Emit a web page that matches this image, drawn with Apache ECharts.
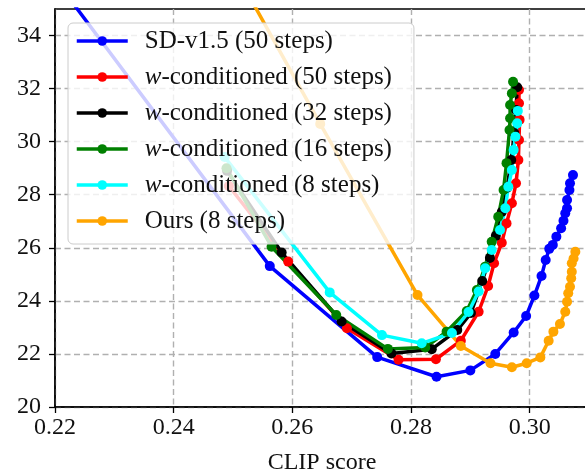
<!DOCTYPE html>
<html>
<head>
<meta charset="utf-8">
<script src="https://cdn.jsdelivr.net/npm/echarts@6/dist/echarts.min.js"></script>
<style>
html,body{margin:0;padding:0;background:#fff;}
#chart{width:585px;height:474px;}
</style>
</head>
<body>
<div id="chart"></div>
<script>
// ---- data (CLIP score, FID) ----
const seriesNames = [
  'SD-v1.5 (50 steps)',
  'w-conditioned (50 steps)',
  'w-conditioned (32 steps)',
  'w-conditioned (16 steps)',
  'w-conditioned (8 steps)',
  'Ours (8 steps)'
];
const seriesColors = ['#0000ff', '#ff0000', '#000000', '#008000', '#00ffff', '#ffa500'];

const sd15 = [
  [0.2174, 36.9], [0.2562, 25.31], [0.2743, 21.88], [0.2843, 21.14], [0.2900, 21.38],
  [0.2942, 22.00], [0.2973, 22.81], [0.2994, 23.43], [0.3008, 24.20], [0.3020, 24.94],
  [0.3027, 25.54], [0.3033, 25.96], [0.3039, 26.11], [0.3045, 26.42], [0.3053, 26.74],
  [0.3057, 27.02], [0.3060, 27.30], [0.3063, 27.49], [0.3063, 27.80], [0.3067, 28.18],
  [0.3068, 28.43], [0.3073, 28.74]
];
const wc50 = [
  [0.2493, 28.33], [0.2593, 25.48], [0.2692, 22.97], [0.2779, 21.78], [0.2842, 21.80],
  [0.2884, 22.50], [0.2914, 23.59], [0.2930, 24.56], [0.2940, 25.42], [0.2953, 26.19],
  [0.2961, 26.92], [0.2970, 27.68], [0.2977, 28.43], [0.2981, 29.31], [0.2982, 30.06],
  [0.2983, 30.82], [0.2982, 31.45], [0.2982, 31.95]
];
const wc32 = [
  [0.2490, 28.90], [0.2582, 25.82], [0.2683, 23.22], [0.2767, 22.02], [0.2835, 22.18],
  [0.2878, 22.90], [0.2901, 23.54], [0.2920, 24.75], [0.2933, 25.62], [0.2943, 26.45],
  [0.2953, 27.35], [0.2962, 28.26], [0.2969, 29.31], [0.2974, 30.33], [0.2977, 31.19],
  [0.2979, 32.05]
];
const wc16 = [
  [0.2489, 29.00], [0.2565, 26.04], [0.2674, 23.47], [0.2761, 22.19], [0.2824, 22.24],
  [0.2860, 22.84], [0.2894, 23.62], [0.2911, 24.41], [0.2925, 25.29], [0.2936, 26.23],
  [0.2947, 27.17], [0.2956, 28.18], [0.2961, 29.19], [0.2966, 30.44], [0.2967, 30.88],
  [0.2967, 31.38], [0.2970, 31.82], [0.2972, 32.26]
];
const wc8 = [
  [0.2486, 29.42], [0.2663, 24.32], [0.2751, 22.71], [0.2818, 22.40], [0.2869, 22.79],
  [0.2897, 23.58], [0.2914, 24.35], [0.2925, 25.23], [0.2936, 25.92], [0.2950, 26.67],
  [0.2959, 27.49], [0.2964, 28.30], [0.2970, 28.93], [0.2973, 29.69], [0.2976, 30.19],
  [0.2979, 30.69], [0.2980, 31.16]
];
const ours8 = [
  [0.2502, 36.50], [0.2647, 30.67], [0.2811, 24.22], [0.2884, 22.30], [0.2934, 21.65],
  [0.2970, 21.50], [0.2995, 21.65], [0.3018, 21.87], [0.3032, 22.50], [0.3040, 22.84],
  [0.3051, 23.13], [0.3060, 23.59], [0.3063, 23.97], [0.3065, 24.29], [0.3068, 24.53],
  [0.3070, 24.85], [0.3071, 25.10], [0.3071, 25.42], [0.3074, 25.60], [0.3077, 25.85]
];
const seriesData = [sd15, wc50, wc32, wc16, wc8, ours8];

const xTickValues = [0.22, 0.24, 0.26, 0.28, 0.30];
const yTickValues = [20, 22, 24, 26, 28, 30, 32, 34];
const xAxisTitle = 'CLIP score';

// ---- chart ----
const FONT = 'Liberation Serif';
const chart = echarts.init(document.getElementById('chart'), null, {renderer: 'canvas'});

const series = seriesNames.map((name, i) => ({
  name: name,
  type: 'line',
  data: seriesData[i],
  clip: true,
  symbol: 'circle',
  symbolSize: 10,
  showSymbol: true,
  lineStyle: {width: 3.5, color: seriesColors[i]},
  itemStyle: {color: seriesColors[i]},
  emphasis: {disabled: true},
  animation: false
}));

chart.setOption({
  animation: false,
  backgroundColor: '#ffffff',
  grid: {
    left: 55, top: 9, width: 534, height: 398,
    outerBoundsMode: 'none', containLabel: false,
    show: true, borderColor: '#000', borderWidth: 1.5, backgroundColor: 'transparent'
  },
  xAxis: {
    type: 'value', min: 0.22, max: 0.31, interval: 0.02,
    axisLine: {show: true, onZero: false, lineStyle: {color: '#000', width: 1.5}},
    axisTick: {show: true, inside: false, length: 6, lineStyle: {color: '#000', width: 1.3}, customValues: xTickValues},
    axisLabel: {
      customValues: xTickValues, margin: 9,
      fontFamily: FONT, fontSize: 24, color: '#111',
      formatter: v => Number(v).toFixed(2)
    },
    splitLine: {show: true, lineStyle: {color: '#b0b0b0', width: 1.4, type: [6, 3.5]}},
    name: xAxisTitle, nameLocation: 'middle', nameGap: 44,
    nameTextStyle: {fontFamily: FONT, fontSize: 24, color: '#111'}
  },
  yAxis: {
    type: 'value', min: 20, max: 35, interval: 2,
    axisLine: {show: true, onZero: false, lineStyle: {color: '#000', width: 1.5}},
    axisTick: {show: true, inside: false, length: 6, lineStyle: {color: '#000', width: 1.3}, customValues: yTickValues},
    axisLabel: {
      customValues: yTickValues, margin: 14,
      fontFamily: FONT, fontSize: 24, color: '#111',
      formatter: v => String(Math.round(v))
    },
    splitLine: {show: true, lineStyle: {color: '#b0b0b0', width: 1.4, type: [6, 3.5]}}
  },
  legend: {
    data: seriesNames,
    orient: 'vertical',
    left: 68, top: 23,
    padding: [5, 22, 10, 7],
    itemWidth: 51, itemHeight: 12, itemGap: 10,
    backgroundColor: 'rgba(255,255,255,0.8)',
    borderColor: '#cccccc', borderWidth: 1, borderRadius: 5,
    selectedMode: false,
    lineStyle: {width: 3.5},
    textStyle: {
      fontFamily: FONT, fontSize: 25, color: '#111', lineHeight: 26,
      padding: [0, 0, 0, 12],
      rich: {
        i: {fontFamily: FONT, fontStyle: 'italic', fontSize: 25, color: '#111', lineHeight: 26}
      }
    },
    formatter: name => name.indexOf('w-') === 0 ? '{i|w}' + name.slice(1) : name
  },
  series: series
});
</script>
</body>
</html>
